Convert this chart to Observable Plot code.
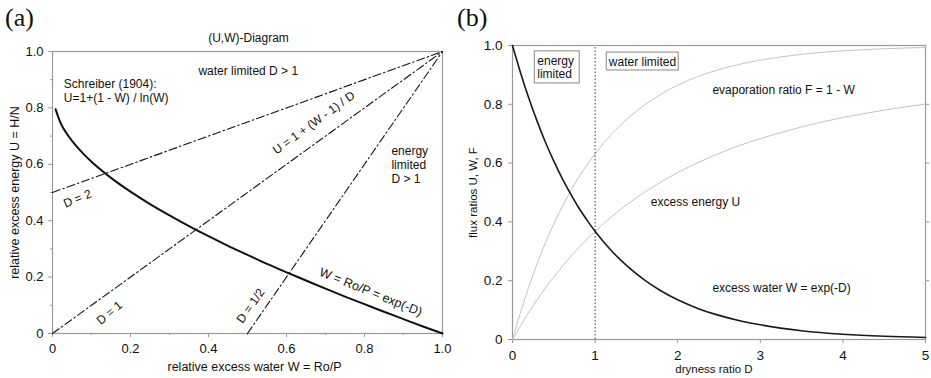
<!DOCTYPE html>
<html><head><meta charset="utf-8">
<script src="https://cdn.jsdelivr.net/npm/d3@7"></script>
<script src="https://cdn.jsdelivr.net/npm/@observablehq/plot@0.6"></script>
<style>
body{margin:0;background:#fff;}
#wrap{position:relative;width:931px;height:378px;overflow:hidden;background:#fff;}
.panel{position:absolute;top:0;}
.lab{position:absolute;font-family:"Liberation Serif","Times New Roman",serif;font-size:26px;line-height:1;color:#111;}
</style></head><body><div id="wrap"></div>
<script>
// ---------- Panel (a): (U,W)-Diagram ----------
const unitTicks = [0, 0.2, 0.4, 0.6, 0.8, 1.0];
const unitTickLabels = ["0", "0.2", "0.4", "0.6", "0.8", "1.0"];
const unitMinorTicks = [0.1, 0.3, 0.5, 0.7, 0.9];

// Schreiber (1904) curve
const schreiberW = [0.008, 0.02, 0.04, 0.06, 0.08, 0.1, 0.15, 0.2, 0.25, 0.3, 0.35, 0.4, 0.45, 0.5, 0.55, 0.6, 0.65, 0.7, 0.75, 0.8, 0.85, 0.9, 0.95, 1.0];
const schreiberU = [0.795, 0.749, 0.702, 0.666, 0.636, 0.609, 0.552, 0.503, 0.459, 0.419, 0.381, 0.345, 0.311, 0.279, 0.247, 0.217, 0.188, 0.159, 0.131, 0.104, 0.077, 0.051, 0.025, 0.0];

// boundary lines U = 1 + (W-1)/D, start points, all end at (1,1)
const boundaryNames = ["D = 2", "D = 1", "D = 1/2"];
const boundaryStartW = [0, 0, 0.5];
const boundaryStartU = [0.5, 0, 0];
const boundaryEndW = [1, 1, 1];
const boundaryEndU = [1, 1, 1];

// ---------- Panel (b): flux ratios vs dryness ----------
const drynessTicks = [0, 1, 2, 3, 4, 5];
const drynessTickLabels = ["0", "1", "2", "3", "4", "5"];
const drynessD = [0, 0.1, 0.2, 0.3, 0.4, 0.5, 0.6, 0.7, 0.8, 0.9, 1, 1.2, 1.4, 1.6, 1.8, 2, 2.25, 2.5, 2.75, 3, 3.5, 4, 4.5, 5];
const excessWater = [1, 0.905, 0.819, 0.741, 0.670, 0.607, 0.549, 0.497, 0.449, 0.407, 0.368, 0.301, 0.247, 0.202, 0.165, 0.135, 0.105, 0.082, 0.064, 0.050, 0.030, 0.018, 0.011, 0.007];
const evapRatio = [0, 0.095, 0.181, 0.259, 0.330, 0.393, 0.451, 0.503, 0.551, 0.593, 0.632, 0.699, 0.753, 0.798, 0.835, 0.865, 0.895, 0.918, 0.936, 0.950, 0.970, 0.982, 0.989, 0.993];
const excessEnergy = [0, 0.048, 0.094, 0.136, 0.176, 0.213, 0.248, 0.281, 0.312, 0.341, 0.368, 0.418, 0.462, 0.501, 0.536, 0.568, 0.602, 0.633, 0.660, 0.683, 0.723, 0.755, 0.780, 0.801];
const limitD = [1];

const FONT = "'Liberation Sans', Arial, Helvetica, sans-serif";
const AXIS = "#999";
const INK = "#111";

const labelOf = (ticks, labels) => { const m = new Map(ticks.map((t, i) => [t, labels[i]])); return d => m.get(d); };

const schreiber = schreiberW.map((w, i) => ({W: w, U: schreiberU[i]}));
const boundaries = boundaryNames.flatMap((n, i) => [
  {n, W: boundaryStartW[i], U: boundaryStartU[i]},
  {n, W: boundaryEndW[i], U: boundaryEndU[i]}
]);

const plotA = Plot.plot({
  width: 465, height: 378,
  marginLeft: 52, marginRight: 23, marginTop: 51, marginBottom: 45,
  x: {domain: [0, 1]},
  y: {domain: [0, 1]},
  style: {fontFamily: FONT, fontSize: "12px", color: INK, background: "transparent", overflow: "visible"},
  marks: [
    Plot.frame({stroke: AXIS, strokeWidth: 1.2}),
    Plot.axisX({ticks: unitTicks, tickFormat: labelOf(unitTicks, unitTickLabels), tickSize: 4, tickPadding: 6, stroke: AXIS, fontSize: 13, label: null}),
    Plot.axisY({ticks: unitTicks, tickFormat: labelOf(unitTicks, unitTickLabels), tickSize: 4, tickPadding: 5, stroke: AXIS, fontSize: 13, label: null}),
    Plot.axisX({ticks: unitMinorTicks, tickFormat: () => "", tickSize: 2, stroke: AXIS, label: null}),
    Plot.axisY({ticks: unitMinorTicks, tickFormat: () => "", tickSize: 2, stroke: AXIS, label: null}),
    Plot.line(boundaries, {x: "W", y: "U", z: "n", stroke: INK, strokeWidth: 1.1, strokeDasharray: "8,3,1.5,3"}),
    Plot.line(schreiber, {x: "W", y: "U", stroke: INK, strokeWidth: 2, curve: "monotone-x"}),
    // annotations
    Plot.text(["(U,W)-Diagram"], {text: d => d, frameAnchor: "top", dy: -18, dx: 1, fontSize: 12, fill: INK}),
    Plot.text(["relative excess water W = Ro/P"], {text: d => d, frameAnchor: "bottom", dy: 37, dx: 7, fontSize: 12.5, fill: INK}),
    Plot.text(["relative excess energy U = H/N"], {text: d => d, frameAnchor: "left", textAnchor: "middle", dx: -38, rotate: -90, fontSize: 12.5, fill: INK}),
    Plot.text([{W: 0.029, U: 0.884, t: "Schreiber (1904):"}, {W: 0.029, U: 0.836, t: "U=1+(1 - W) / ln(W)"}], {x: "W", y: "U", text: "t", textAnchor: "start", fontSize: 12, fill: INK}),
    Plot.text([{W: 0.502, U: 0.932, t: "water limited D > 1"}], {x: "W", y: "U", text: "t", fontSize: 12, fill: INK}),
    Plot.text([{W: 0.869, U: 0.598, t: "energy\nlimited\nD > 1"}], {x: "W", y: "U", text: "t", textAnchor: "start", lineHeight: 1.15, fontSize: 12, fill: INK}),
    Plot.text([{W: 0.670, U: 0.747, t: "U = 1 + (W - 1) / D"}], {x: "W", y: "U", text: "t", rotate: -36, fontSize: 12, fill: INK}),
    Plot.text([{W: 0.064, U: 0.478, t: "D = 2"}], {x: "W", y: "U", text: "t", rotate: -22, fontSize: 12, fill: INK}),
    Plot.text([{W: 0.146, U: 0.073, t: "D = 1"}], {x: "W", y: "U", text: "t", rotate: -40, fontSize: 12, fill: INK}),
    Plot.text([{W: 0.508, U: 0.098, t: "D = 1/2"}], {x: "W", y: "U", text: "t", rotate: -55, fontSize: 12, fill: INK}),
    Plot.text([{W: 0.816, U: 0.147, t: "W = Ro/P = exp(-D)"}], {x: "W", y: "U", text: "t", rotate: 22, fontSize: 12.5, fill: INK})
  ]
});

const fluxRows = drynessD.map((d, i) => ({D: d, W: excessWater[i], F: evapRatio[i], U: excessEnergy[i]}));

const plotB = Plot.plot({
  width: 466, height: 378,
  marginLeft: 47, marginRight: 6, marginTop: 45, marginBottom: 39,
  x: {domain: [0, 5]},
  y: {domain: [0, 1]},
  style: {fontFamily: FONT, fontSize: "12px", color: INK, background: "transparent", overflow: "visible"},
  marks: [
    Plot.frame({stroke: AXIS, strokeWidth: 1.2}),
    Plot.axisX({ticks: drynessTicks, tickFormat: labelOf(drynessTicks, drynessTickLabels), tickSize: 4, tickPadding: 7, stroke: AXIS, fontSize: 13.5, label: null}),
    Plot.axisY({ticks: unitTicks, tickFormat: labelOf(unitTicks, unitTickLabels), tickSize: 4, tickPadding: 6, stroke: AXIS, fontSize: 13.5, label: null}),
    Plot.axisY({anchor: "right", ticks: unitTicks.slice(1, 5), tickFormat: () => "", tickSize: 3, stroke: AXIS, label: null}),
    Plot.line(fluxRows, {x: "D", y: "F", stroke: "#c4c4c4", strokeWidth: 1, curve: "monotone-x"}),
    Plot.line(fluxRows, {x: "D", y: "U", stroke: "#c4c4c4", strokeWidth: 1, curve: "monotone-x"}),
    Plot.line(fluxRows, {x: "D", y: "W", stroke: "#1a1a1a", strokeWidth: 1.6, curve: "monotone-x"}),
    Plot.ruleX(limitD, {y1: 0, y2: 1, stroke: "#333", strokeWidth: 1, strokeDasharray: "1.5,2"}),
    Plot.rect([{x1: 0.27, x2: 0.814, y1: 0.871, y2: 0.98}, {x1: 1.141, x2: 2.012, y1: 0.915, y2: 0.976}], {x1: "x1", x2: "x2", y1: "y1", y2: "y2", fill: "white", stroke: "#888", strokeWidth: 1}),
    Plot.text([{D: 0.30, v: 0.927, t: "energy\nlimited"}, {D: 1.166, v: 0.946, t: "water limited"}], {x: "D", y: "v", text: "t", textAnchor: "start", lineHeight: 1.1, fontSize: 12, fill: INK}),
    Plot.text([{D: 2.42, v: 0.847, t: "evaporation ratio F = 1 - W"}, {D: 1.675, v: 0.466, t: "excess energy U"}, {D: 2.42, v: 0.173, t: "excess water W = exp(-D)"}], {x: "D", y: "v", text: "t", textAnchor: "start", fontSize: 12, fill: INK}),
    Plot.text(["dryness ratio D"], {text: d => d, frameAnchor: "bottom", dy: 33, dx: -5, fontSize: 11.5, fill: INK}),
    Plot.text(["flux ratios U, W, F"], {text: d => d, frameAnchor: "left", textAnchor: "middle", dx: -39, rotate: -90, fontSize: 11.5, fill: INK})
  ]
});

const wrap = document.getElementById("wrap");
plotA.classList.add("panel"); plotA.style.left = "0px";
plotB.classList.add("panel"); plotB.style.left = "465px";
wrap.appendChild(plotA);
wrap.appendChild(plotB);
for (const [txt, left] of [["(a)", 5], ["(b)", 457]]) {
  const d = document.createElement("div");
  d.className = "lab"; d.textContent = txt; d.style.left = left + "px"; d.style.top = "5px";
  wrap.appendChild(d);
}
</script></body></html>
